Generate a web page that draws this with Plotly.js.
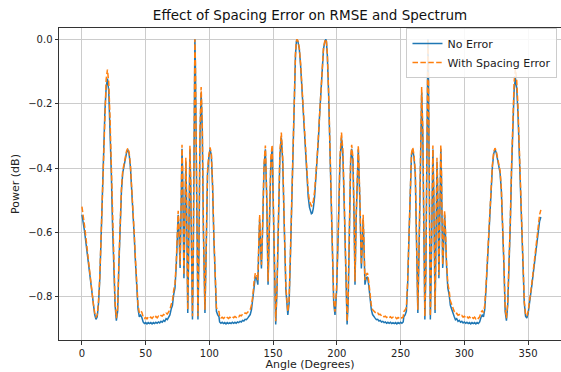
<!DOCTYPE html>
<html>
<head>
<meta charset="utf-8">
<script src="https://cdn.plot.ly/plotly-3.0.1.min.js"></script>
<style>html,body{margin:0;padding:0;background:#fff;overflow:hidden}</style>
</head>
<body>
<div id="chart" style="width:561px;height:372px"></div>
<script>
const angles = [
0,1,2,3,4,5,6,7,8,9,10,11,12,13,14,15,16,17,18,19,20,21,22,23,24,25,26,27,28,
29,30,31,32,33,34,35,36,37,38,39,40,41,42,43,44,45,46,47,
48,49,50,51,52,53,54,55,56,57,58,59,60,61,62,63,64,65,66,67,68,69,70,71,72,73,74,
74.5,75,75.5,76,76.5,77,77.5,78,78.5,79,79.5,80,80.5,81,81.5,82,82.5,83,83.5,84,84.7,85.3,86,86.7,87.3,87.8,88.3,88.6,89,89.5,90.2,91,91.8,92.6,93.5,94.4,95.3,96.5,97.5,98.5,99.5,100.5,101.5,102.5,103.5,104.5,105.5,106.5,107.5,
108,109,110,111,112,113,114,115,116,117,118,119,120,121,122,123,124,125,126,127,128,129,130,131,132,133,134,135,136,137,138,
138.7,139.4,140.1,140.8,141.8,142.8,143.9,145,146,147.2,148.2,149.2,150.2,151.2,152,153,154.2,155.3,156.4,157.5,158.7,160,161.5,
162.5,163.5,164.5,165.5,166.5,167.5,168.2,168.7,169.5,170.5,171.5,172.5,173.5,174.5,175.5,176.5,177.5,178.5,179.3,180,
180.7,181.5,182.5,183.5,184.5,185.5,186.5,187.5,188.5,189.5,190.5,191.3,191.8,192.5,193.5,194.5,195.5,196.5,197.5,
198.5,199.8,201.2,202.4,203.6,204.7,205.8,207,208,208.8,209.8,210.8,211.6,212.6,213.5,214.2,215.1,216,216.8,218,219.2,219.9,220.6,221.3,222,
223,224,225,226,227,228,229,230,231,232,233,234,235,236,237,238,239,240,241,242,243,244,245,246,247,248,249,250,251,252,
252.5,253.5,254.5,255.5,256.5,257.5,258.5,259.5,260.5,261.5,262.5,263.5,264.7,265.6,266.5,267.4,268.2,269,269.8,270.5,271,271.4,271.7,272.2,272.7,273.3,274,274.7,275.3,276,276.5,277,277.5,278,278.5,279,279.5,280,280.5,281,281.5,282,282.5,283,283.5,284,284.5,285,285.5,286,
287,288,289,290,291,292,293,294,295,296,297,298,299,300,301,302,303,304,305,306,307,308,309,310,311,312,313,314,315,
316,317,318,319,320,321,322,323,324,325,326,327,328,329,330,331,332,333,334,335,336,337,338,339,340,341,342,343,344,345,346,347,348,349,350,351,352,353,354,355,356,357,358,359,360
];

const noError = [
-0.545,-0.565,-0.595,-0.628,-0.662,-0.700,-0.735,-0.768,-0.800,-0.830,-0.855,-0.870,-0.862,-0.820,-0.745,-0.620,-0.480,-0.340,-0.225,-0.150,-0.122,-0.160,-0.262,-0.410,-0.580,-0.722,-0.826,-0.874,-0.845,
-0.700,-0.565,-0.470,-0.415,-0.390,-0.370,-0.352,-0.342,-0.356,-0.395,-0.455,-0.530,-0.610,-0.695,-0.775,-0.838,-0.862,-0.857,-0.864,
-0.878,-0.883,-0.880,-0.884,-0.880,-0.883,-0.880,-0.884,-0.880,-0.883,-0.879,-0.882,-0.878,-0.881,-0.876,-0.879,-0.873,-0.876,-0.868,-0.871,-0.861,-0.856,-0.838,-0.826,-0.792,-0.772,-0.702,
-0.660,-0.585,-0.545,-0.580,-0.665,-0.710,-0.600,-0.420,-0.340,-0.420,-0.620,-0.742,-0.620,-0.450,-0.380,-0.480,-0.700,-0.850,-0.720,-0.480,-0.342,-0.450,-0.720,-0.870,-0.700,-0.350,-0.060,0.000,-0.080,-0.350,-0.720,-0.870,-0.650,-0.300,-0.165,-0.280,-0.600,-0.850,-0.650,-0.420,-0.368,-0.342,-0.360,-0.460,-0.620,-0.760,-0.845,-0.856,-0.862,
-0.878,-0.882,-0.879,-0.883,-0.880,-0.884,-0.880,-0.883,-0.880,-0.883,-0.879,-0.882,-0.879,-0.882,-0.878,-0.880,-0.876,-0.878,-0.873,-0.875,-0.870,-0.871,-0.866,-0.862,-0.855,-0.840,-0.810,-0.765,-0.738,-0.742,-0.762,
-0.650,-0.560,-0.640,-0.712,-0.580,-0.400,-0.342,-0.500,-0.762,-0.550,-0.380,-0.340,-0.550,-0.820,-0.886,-0.780,-0.520,-0.360,-0.305,-0.380,-0.580,-0.780,-0.856,
-0.820,-0.680,-0.500,-0.320,-0.170,-0.050,-0.008,0.000,-0.008,-0.030,-0.080,-0.150,-0.230,-0.310,-0.380,-0.440,-0.490,-0.522,-0.537,-0.542,
-0.540,-0.525,-0.490,-0.440,-0.380,-0.310,-0.230,-0.150,-0.080,-0.030,-0.008,0.000,-0.008,-0.050,-0.170,-0.320,-0.500,-0.680,-0.820,
-0.856,-0.780,-0.580,-0.380,-0.305,-0.360,-0.520,-0.780,-0.886,-0.820,-0.550,-0.380,-0.340,-0.380,-0.560,-0.762,-0.560,-0.400,-0.342,-0.500,-0.712,-0.640,-0.560,-0.650,-0.762,
-0.742,-0.738,-0.765,-0.810,-0.840,-0.855,-0.862,-0.866,-0.871,-0.870,-0.875,-0.873,-0.878,-0.876,-0.880,-0.878,-0.882,-0.879,-0.882,-0.879,-0.883,-0.880,-0.883,-0.880,-0.884,-0.880,-0.883,-0.879,-0.882,-0.878,
-0.862,-0.856,-0.845,-0.760,-0.620,-0.460,-0.360,-0.342,-0.368,-0.420,-0.650,-0.850,-0.600,-0.280,-0.165,-0.300,-0.650,-0.870,-0.720,-0.350,-0.080,0.000,-0.060,-0.350,-0.700,-0.870,-0.720,-0.450,-0.342,-0.480,-0.720,-0.850,-0.700,-0.480,-0.380,-0.450,-0.620,-0.742,-0.620,-0.420,-0.340,-0.420,-0.600,-0.710,-0.665,-0.580,-0.545,-0.585,-0.660,-0.702,
-0.772,-0.792,-0.826,-0.838,-0.856,-0.861,-0.871,-0.868,-0.876,-0.873,-0.879,-0.876,-0.881,-0.878,-0.882,-0.879,-0.883,-0.880,-0.884,-0.880,-0.883,-0.880,-0.884,-0.880,-0.883,-0.878,-0.864,-0.857,-0.862,
-0.838,-0.775,-0.695,-0.610,-0.530,-0.455,-0.395,-0.356,-0.342,-0.352,-0.370,-0.390,-0.415,-0.470,-0.565,-0.700,-0.845,-0.874,-0.826,-0.722,-0.580,-0.410,-0.262,-0.160,-0.120,-0.150,-0.225,-0.340,-0.480,-0.620,-0.745,-0.820,-0.860,-0.866,-0.852,-0.826,-0.795,-0.762,-0.728,-0.692,-0.655,-0.620,-0.590,-0.565,-0.552
];

const withError = [
-0.520,-0.545,-0.578,-0.612,-0.650,-0.690,-0.727,-0.761,-0.794,-0.824,-0.849,-0.864,-0.856,-0.814,-0.738,-0.610,-0.466,-0.322,-0.203,-0.124,-0.094,-0.134,-0.240,-0.393,-0.567,-0.713,-0.818,-0.866,-0.836,
-0.690,-0.556,-0.462,-0.408,-0.383,-0.364,-0.347,-0.338,-0.351,-0.389,-0.448,-0.522,-0.601,-0.685,-0.764,-0.826,-0.849,-0.843,-0.848,
-0.862,-0.867,-0.864,-0.868,-0.863,-0.867,-0.863,-0.867,-0.862,-0.866,-0.861,-0.865,-0.860,-0.863,-0.858,-0.860,-0.855,-0.857,-0.851,-0.853,-0.845,-0.840,-0.824,-0.812,-0.779,-0.759,-0.690,
-0.648,-0.572,-0.533,-0.568,-0.654,-0.700,-0.588,-0.408,-0.328,-0.408,-0.609,-0.732,-0.609,-0.438,-0.368,-0.469,-0.690,-0.840,-0.710,-0.468,-0.330,-0.439,-0.710,-0.860,-0.690,-0.338,-0.050,0.000,-0.070,-0.338,-0.710,-0.860,-0.638,-0.282,-0.148,-0.262,-0.588,-0.840,-0.640,-0.410,-0.360,-0.336,-0.354,-0.453,-0.611,-0.750,-0.833,-0.841,-0.846,
-0.862,-0.866,-0.863,-0.867,-0.864,-0.868,-0.864,-0.867,-0.863,-0.866,-0.862,-0.865,-0.861,-0.864,-0.860,-0.862,-0.857,-0.859,-0.854,-0.855,-0.850,-0.852,-0.848,-0.845,-0.840,-0.826,-0.798,-0.753,-0.726,-0.730,-0.748,
-0.636,-0.545,-0.626,-0.700,-0.568,-0.388,-0.330,-0.490,-0.752,-0.539,-0.368,-0.328,-0.539,-0.810,-0.876,-0.770,-0.508,-0.346,-0.290,-0.367,-0.569,-0.770,-0.846,
-0.810,-0.670,-0.490,-0.310,-0.162,-0.045,-0.006,0.000,-0.006,-0.026,-0.074,-0.143,-0.222,-0.300,-0.368,-0.426,-0.473,-0.502,-0.515,-0.518,
-0.516,-0.503,-0.472,-0.425,-0.367,-0.299,-0.221,-0.143,-0.074,-0.026,-0.006,0.000,-0.006,-0.045,-0.162,-0.310,-0.490,-0.670,-0.810,
-0.846,-0.770,-0.569,-0.367,-0.290,-0.346,-0.508,-0.770,-0.876,-0.810,-0.539,-0.368,-0.328,-0.368,-0.549,-0.752,-0.549,-0.388,-0.330,-0.490,-0.700,-0.626,-0.545,-0.636,-0.748,
-0.730,-0.726,-0.753,-0.798,-0.826,-0.840,-0.845,-0.848,-0.852,-0.850,-0.855,-0.854,-0.859,-0.857,-0.862,-0.860,-0.864,-0.861,-0.865,-0.862,-0.866,-0.863,-0.867,-0.864,-0.868,-0.864,-0.867,-0.863,-0.866,-0.862,
-0.846,-0.841,-0.833,-0.750,-0.611,-0.453,-0.354,-0.336,-0.360,-0.410,-0.640,-0.840,-0.588,-0.262,-0.148,-0.282,-0.638,-0.860,-0.710,-0.338,-0.070,0.000,-0.050,-0.338,-0.690,-0.860,-0.710,-0.439,-0.330,-0.468,-0.710,-0.840,-0.690,-0.469,-0.368,-0.438,-0.609,-0.732,-0.609,-0.408,-0.328,-0.408,-0.588,-0.700,-0.654,-0.568,-0.533,-0.572,-0.648,-0.690,
-0.759,-0.779,-0.812,-0.824,-0.840,-0.845,-0.853,-0.851,-0.857,-0.855,-0.860,-0.858,-0.863,-0.860,-0.865,-0.861,-0.866,-0.862,-0.867,-0.863,-0.867,-0.863,-0.868,-0.864,-0.867,-0.862,-0.848,-0.843,-0.849,
-0.826,-0.764,-0.685,-0.601,-0.522,-0.448,-0.389,-0.351,-0.338,-0.347,-0.364,-0.383,-0.408,-0.462,-0.556,-0.690,-0.836,-0.866,-0.818,-0.713,-0.567,-0.393,-0.240,-0.134,-0.092,-0.124,-0.203,-0.322,-0.466,-0.610,-0.738,-0.814,-0.854,-0.860,-0.846,-0.820,-0.789,-0.755,-0.720,-0.682,-0.643,-0.605,-0.572,-0.545,-0.530
];

const xTicks = [0, 50, 100, 150, 200, 250, 300, 350];
const yTicks = [-0.8, -0.6, -0.4, -0.2, 0.0];
const yTickText = ['\u22120.8', '\u22120.6', '\u22120.4', '\u22120.2', '0.0'];

const font = 'DejaVu Sans, Liberation Sans, sans-serif';

const traces = [
  {x: angles, y: noError, type: 'scatter', mode: 'lines', name: 'No Error',
   line: {color: '#1f77b4', width: 1.5}},
  {x: angles, y: withError, type: 'scatter', mode: 'lines', name: 'With Spacing Error',
   line: {color: '#ff7f0e', width: 1.5, dash: '5.5px,2.4px'}}
];

const axisCommon = {
  showgrid: true, gridcolor: '#cccccc', gridwidth: 1,
  zeroline: false, showline: true, linecolor: '#333333', linewidth: 1, mirror: true,
  ticks: 'outside', ticklen: 3.5, tickwidth: 1, tickcolor: '#333333',
  tickfont: {family: font, size: 10, color: '#222'}, automargin: false
};

const layout = {
  width: 561, height: 372,
  margin: {l: 59, r: 0, t: 28, b: 32},
  paper_bgcolor: '#ffffff', plot_bgcolor: '#ffffff',
  font: {family: font, color: '#222'},
  title: {text: 'Effect of Spacing Error on RMSE and Spectrum', x: 0.5, xref: 'paper', xanchor: 'center',
          y: 0.96, yref: 'container', yanchor: 'middle', font: {family: font, size: 13.5, color: '#111'}},
  xaxis: Object.assign({}, axisCommon, {
    range: [-18, 375.8], tickvals: xTicks, ticktext: xTicks.map(String),
    title: {text: 'Angle (Degrees)', font: {family: font, size: 11, color: '#222'}, standoff: 2}
  }),
  yaxis: Object.assign({}, axisCommon, {
    range: [-0.934, 0.035], tickvals: yTicks, ticktext: yTickText,
    title: {text: 'Power (dB)', font: {family: font, size: 11, color: '#222'}, standoff: 6}
  }),
  legend: {x: 0.993, y: 1.0, xanchor: 'right', yanchor: 'top',
           bgcolor: 'rgba(255,255,255,0.85)', bordercolor: '#cccccc', borderwidth: 1,
           font: {family: font, size: 11, color: '#222'}, tracegroupgap: 0, itemwidth: 30},
  showlegend: true
};

Plotly.newPlot('chart', traces, layout, {displayModeBar: false, staticPlot: true});
</script>
</body>
</html>
